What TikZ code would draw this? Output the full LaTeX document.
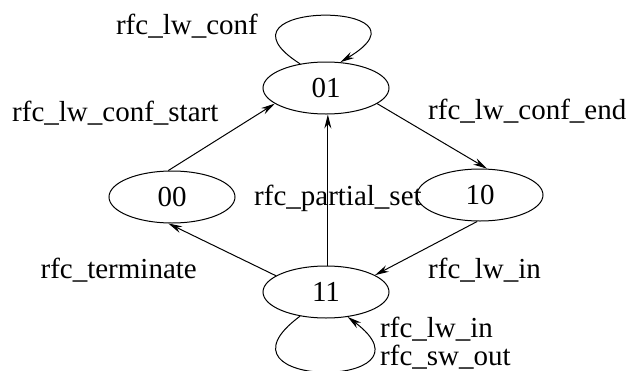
\documentclass[tikz,border=0pt]{standalone}
\usepackage{fontspec}
\setmainfont{Liberation Serif}
\usetikzlibrary{shapes.geometric,arrows.meta}
\begin{document}
\begin{tikzpicture}[x=1pt,y=-1pt,
  state/.style={ellipse,draw,line width=1pt,inner sep=0pt,
    minimum width=126pt,minimum height=52pt,
    font=\fontsize{29}{29}\selectfont},
  lbl/.style={inner sep=0pt,font=\fontsize{29}{29}\selectfont},
  edge/.style={line width=1pt,-{Stealth[length=14pt,width=7pt]}}]
\useasboundingbox (0,0) rectangle (627,370);
% states
\node[state] (s01) at (326,88) {01};
\node[state] (s00) at (172,197) {00};
\node[state] (s10) at (480,195) {10};
\node[state] (s11) at (326,292) {11};
% transitions
\draw[edge] (s00.98) -- (s01.197);
\draw[edge] (s01.-17) -- (s10.75);
\draw[edge] (s11.86) -- (s01.-86);
\draw[edge] (s11.162) -- (s00.-98);
\draw[edge] (s10.-96) -- (s11.19);
% self loops
\draw[edge] (s01.137) .. controls (200,0) and (445,0) .. (s01.61);
\draw[edge] (s11.-137) .. controls (200,390) and (445,390) .. (s11.-49);
% labels
\node[lbl,anchor=base east] (l1) at (258,34) {rfc\_lw\_conf};
\node[lbl,anchor=base west] (l2) at (12,121) {rfc\_lw\_conf\_start};
\node[lbl,anchor=base west] (l3) at (428,119) {rfc\_lw\_conf\_end};
\node[lbl,anchor=base west] (l4) at (254,205) {rfc\_partial\_set};
\node[lbl,anchor=base east] (l5) at (197,278) {rfc\_terminate};
\node[lbl,anchor=base west] (l6) at (428,278) {rfc\_lw\_in};
\node[lbl,anchor=base west] (l7) at (380,337) {rfc\_lw\_in};
\node[lbl,anchor=base west] (l8) at (380,365) {rfc\_sw\_out};
\end{tikzpicture}
\end{document}
